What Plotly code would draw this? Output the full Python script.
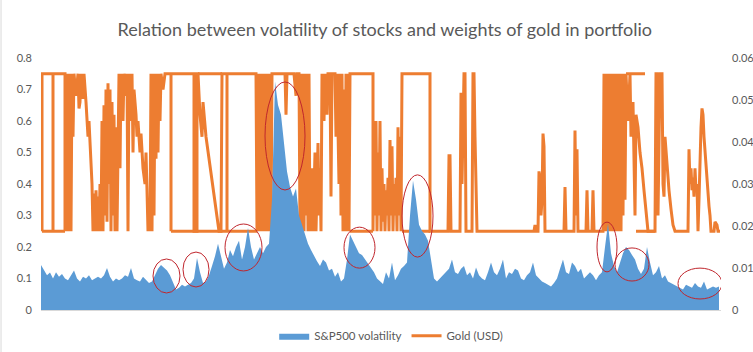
import numpy as np
import plotly.graph_objects as go

TITLE = "Relation between volatility of stocks and weights of gold in portfolio"
SERIES_VOL = "S&P500 volatility"
SERIES_GOLD = "Gold (USD)"

# S&P500 volatility, one reading every 3 days of the index (right axis)
sp500_vol = [
    0.0107, 0.0094, 0.0083, 0.0089, 0.0075, 0.0090, 0.0079, 0.0086, 0.0075, 0.0071,
    0.0083, 0.0094, 0.0075, 0.0068, 0.0079, 0.0075, 0.0083, 0.0071, 0.0075, 0.0079,
    0.0075, 0.0083, 0.0100, 0.0079, 0.0068, 0.0075, 0.0071, 0.0075, 0.0083, 0.0079,
    0.0100, 0.0075, 0.0071, 0.0068, 0.0079, 0.0071, 0.0064, 0.0068, 0.0083, 0.0098,
    0.0107, 0.0101, 0.0094, 0.0083, 0.0064, 0.0049, 0.0053, 0.0060, 0.0056, 0.0060,
    0.0064, 0.0075, 0.0124, 0.0090, 0.0064, 0.0068, 0.0083, 0.0105, 0.0128, 0.0158,
    0.0128, 0.0098, 0.0113, 0.0143, 0.0128, 0.0150, 0.0165, 0.0120, 0.0150, 0.0195,
    0.0150, 0.0120, 0.0135, 0.0150, 0.0135, 0.0150, 0.0158, 0.0263, 0.0544, 0.0488,
    0.0465, 0.0390, 0.0330, 0.0293, 0.0270, 0.0289, 0.0225, 0.0203, 0.0180, 0.0158,
    0.0143, 0.0128, 0.0116, 0.0105, 0.0120, 0.0113, 0.0094, 0.0098, 0.0079, 0.0090,
    0.0068, 0.0075, 0.0120, 0.0180, 0.0165, 0.0150, 0.0135, 0.0131, 0.0120, 0.0109,
    0.0098, 0.0090, 0.0075, 0.0068, 0.0062, 0.0090, 0.0075, 0.0113, 0.0071, 0.0083,
    0.0098, 0.0105, 0.0113, 0.0225, 0.0308, 0.0263, 0.0203, 0.0188, 0.0180, 0.0165,
    0.0120, 0.0075, 0.0068, 0.0075, 0.0083, 0.0090, 0.0098, 0.0120, 0.0090, 0.0086,
    0.0098, 0.0105, 0.0083, 0.0090, 0.0075, 0.0101, 0.0083, 0.0075, 0.0071, 0.0090,
    0.0113, 0.0090, 0.0083, 0.0098, 0.0120, 0.0075, 0.0090, 0.0086, 0.0098, 0.0094,
    0.0075, 0.0071, 0.0083, 0.0090, 0.0113, 0.0083, 0.0075, 0.0068, 0.0064, 0.0060,
    0.0056, 0.0064, 0.0075, 0.0098, 0.0120, 0.0090, 0.0086, 0.0113, 0.0105, 0.0090,
    0.0098, 0.0075, 0.0083, 0.0090, 0.0083, 0.0071, 0.0083, 0.0090, 0.0150, 0.0206,
    0.0135, 0.0105, 0.0090, 0.0113, 0.0135, 0.0150, 0.0143, 0.0131, 0.0120, 0.0098,
    0.0086, 0.0098, 0.0150, 0.0113, 0.0083, 0.0090, 0.0105, 0.0075, 0.0083, 0.0068,
    0.0064, 0.0060, 0.0056, 0.0053, 0.0049, 0.0060, 0.0056, 0.0053, 0.0064, 0.0056,
    0.0053, 0.0068, 0.0049, 0.0053, 0.0056, 0.0053, 0.0056,
]
vol_start, vol_step = 41, 3

# Gold weight path (day, weight); None separates the extra flat runs
gold_path = [
    (42, .75), (42, .25), (42, .75), (53, .75), (53, .25), (53, .75), (65, .75), (65, .25),
    (66, .75), (67, .25), (68, .75), (69, .25), (70, .75), (71, .25), (72, .75),
    (73, .55), (74, .75), (76, .68), (78, .75), (79, .64), (80, .66), (81, .75), (83, .67),
    (84, .75), (86, .66),
    (88, .55), (89, .60), (91, .45), (92, .40), (93, .25), (94, .37), (95, .25), (96, .38),
    (97, .25), (98, .36), (99, .25), (100, .40),
    (101, .25), (102, .60), (103, .25), (104, .65), (105, .30), (106, .70), (107, .28),
    (108, .72), (109, .40), (110, .70), (111, .25), (112, .66), (113, .30), (114, .62),
    (115, .25), (116, .58), (117, .25), (118, .55), (119, .75),
    (120, .45), (121, .75), (123, .60), (124, .75), (126, .68), (127, .75), (128, .25),
    (129, .75), (131, .60), (132, .75), (133, .50), (134, .70), (136, .62), (137, .55),
    (138, .60), (140, .50), (141, .56), (143, .45), (145, .40), (146, .50), (147, .38),
    (148, .25), (149, .35), (150, .25), (151, .75),
    (152, .25), (153, .75), (154, .30), (155, .75), (156, .48), (157, .75), (158, .50),
    (159, .75), (160, .60), (161, .75), (163, .70), (165, .75), (171, .75), (171, .25),
    (171, .75),
    (194, .75), (194, .25), (197, .25), (197, .75), (198, .75), (200, .62), (202, .55),
    (203, .66), (206, .55), (209, .48), (212, .42), (215, .35), (218, .28), (219, .25),
    (221, .25), (222, .75), (227, .75), (227, .25), (227, .75), (256, .75), (257, .25),
    (258, .75), (259, .25), (260, .75), (261, .25), (262, .75), (263, .25), (264, .75),
    (265, .25), (266, .75), (267, .25), (268, .75), (269, .25), (270, .75), (271, .25),
    (272, .75),
    (285, .75), (286, .62), (287, .75), (294, .75), (296, .68), (297, .75), (299, .75),
    (300, .25), (301, .75), (302, .25), (303, .75), (304, .25), (305, .75), (306, .30),
    (307, .75), (308, .25), (309, .75), (310, .25), (312, .45), (313, .25), (315, .50),
    (316, .25), (318, .53), (319, .30), (320, .45), (321, .25), (322, .75), (324, .60),
    (325, .75), (327, .62), (328, .75), (330, .75), (331, .36), (332, .75), (335, .75),
    (336, .55), (337, .75), (339, .40), (340, .75), (341, .30), (342, .75), (343, .25),
    (344, .70), (345, .25), (346, .75), (347, .25), (348, .75), (349, .25), (350, .75),
    (373, .75), (373, .25),
    (374, .55), (375, .30), (376, .60), (377, .25), (378, .50), (379, .30), (380, .60),
    (381, .25), (382, .45), (383, .28), (384, .40), (385, .25), (386, .38), (387, .30),
    (388, .42), (389, .25), (390, .54), (391, .30), (392, .52), (393, .25), (394, .40),
    (395, .30), (396, .42), (397, .25), (398, .58), (399, .30), (400, .55), (401, .25),
    (402, .75),
    (430, .75), (430, .25),
    (448, .25), (449, .49), (450, .49), (451, .25), (460, .25), (461, .69), (462, .40),
    (464, .75), (465, .75), (466, .25), (472, .25), (473, .75), (474, .75), (475, .55),
    (476, .37), (477, .25),
    (534, .25), (535, .27), (536, .25), (538, .25), (539, .44), (540, .42), (541, .30),
    (542, .35), (543, .56), (544, .52), (545, .25), (564, .25), (565, .39), (566, .25),
    (574, .25), (575, .57), (576, .30), (577, .51), (578, .25), (586, .25), (587, .38),
    (588, .25), (592, .25), (593, .38), (594, .25),
    (603, .25), (604, .75), (605, .25), (606, .75), (607, .25), (608, .75), (609, .25),
    (610, .75), (611, .25), (612, .75), (613, .25), (614, .75), (615, .25), (616, .75),
    (617, .25), (618, .75),
    (619, .25), (620, .75), (621, .25), (622, .75), (623, .30), (624, .75), (625, .35),
    (626, .75), (628, .60), (630, .75), (631, .55), (633, .66), (635, .30), (636, .62),
    (638, .58), (640, .50), (642, .45), (644, .38), (646, .32), (648, .25),
    (655, .25), (656, .75), (657, .75), (658, .30), (660, .75), (662, .75), (663, .40),
    (664, .36), (665, .55), (667, .45), (669, .38), (671, .32), (673, .27), (675, .25),
    (688, .25), (689, .51), (690, .40), (691, .45), (692, .38), (693, .42), (694, .36),
    (695, .45), (696, .38), (697, .40), (698, .25), (699, .35), (700, .50), (701, .58),
    (702, .64), (703, .62), (704, .55), (705, .50), (706, .45), (707, .42), (708, .38),
    (709, .33), (710, .30), (711, .25), (714, .25), (715, .28), (717, .27), (718, .25),
    (720, .25),
    (None, None), (42, .25), (65, .25),
    (None, None), (171, .25), (257, .25),
    (None, None), (198, .75), (222, .75),
    (None, None), (350, .25), (373, .25),
    (None, None), (402, .25), (430, .25),
    (None, None), (626, .75), (645, .75),
    (None, None), (636, .25), (655, .25),
]
gold_day = [p[0] for p in gold_path]
gold_weight = [p[1] for p in gold_path]

# Highlighted episodes: (day from, day to, weight-scale low, weight-scale high)
highlights = [
    (153, 180, 0.054, 0.162),
    (183, 209, 0.073, 0.184),
    (225, 262, 0.124, 0.273),
    (265, 305, 0.381, 0.724),
    (344, 375, 0.133, 0.263),
    (402, 433, 0.168, 0.429),
    (597, 617, 0.121, 0.279),
    (615, 649, 0.092, 0.197),
    (678, 722, 0.035, 0.133),
]

BLUE = "#5b9bd5"
ORANGE = "#ed7d31"
TEXT = "#595959"
FONT = "Lato"

vol_day = vol_start + vol_step * np.arange(len(sp500_vol))

fig = go.Figure()
fig.add_trace(go.Scatter(
    x=gold_day, y=gold_weight, name=SERIES_GOLD, mode="lines",
    line=dict(color=ORANGE, width=3), connectgaps=False,
    legendrank=2, yaxis="y",
))
fig.add_trace(go.Scatter(
    x=vol_day, y=sp500_vol, name=SERIES_VOL, mode="lines",
    line=dict(color=BLUE, width=0), fill="tozeroy", fillcolor=BLUE,
    legendrank=1, yaxis="y2",
))

for x0, x1, y0, y1 in highlights:
    fig.add_shape(type="circle", xref="x", yref="y", x0=x0, x1=x1, y0=y0, y1=y1,
                  line=dict(color="#c0262d", width=1), layer="above")

# light frame line on the left edge of the chart area
fig.add_shape(type="line", xref="paper", yref="paper", x0=-0.0588, x1=-0.0588,
              y0=-0.2, y1=1.3, line=dict(color="#d9d9d9", width=1))

fig.update_layout(
    width=753, height=352,
    margin=dict(l=41, r=32, t=58, b=42, autoexpand=False),
    paper_bgcolor="white", plot_bgcolor="white",
    font=dict(family=FONT, color=TEXT, size=11),
    title=dict(text=TITLE, x=0.511, xref="container", xanchor="center",
               y=0.915, yref="container", yanchor="middle",
               font=dict(family=FONT, size=18, color=TEXT)),
    xaxis=dict(range=[41, 721], showticklabels=False, showgrid=False, zeroline=False,
               showline=True, linecolor="#d9d9d9", ticks="", automargin=False),
    yaxis=dict(range=[0, 0.8], dtick=0.1, tick0=0, showgrid=False, zeroline=False,
               ticks="", ticklabelstandoff=8, automargin=False,
               tickfont=dict(size=11, color=TEXT)),
    yaxis2=dict(range=[0, 0.06], dtick=0.01, tick0=0, overlaying="y", side="right",
                showgrid=False, zeroline=False, ticks="", ticklabelstandoff=10,
                automargin=False, tickfont=dict(size=11, color=TEXT)),
    legend=dict(orientation="h", x=0.515, xanchor="center", y=0.046, yref="container",
                yanchor="middle", font=dict(size=11.5, color=TEXT),
                bgcolor="rgba(0,0,0,0)"),
    showlegend=True,
)

fig.write_html("out.html")
